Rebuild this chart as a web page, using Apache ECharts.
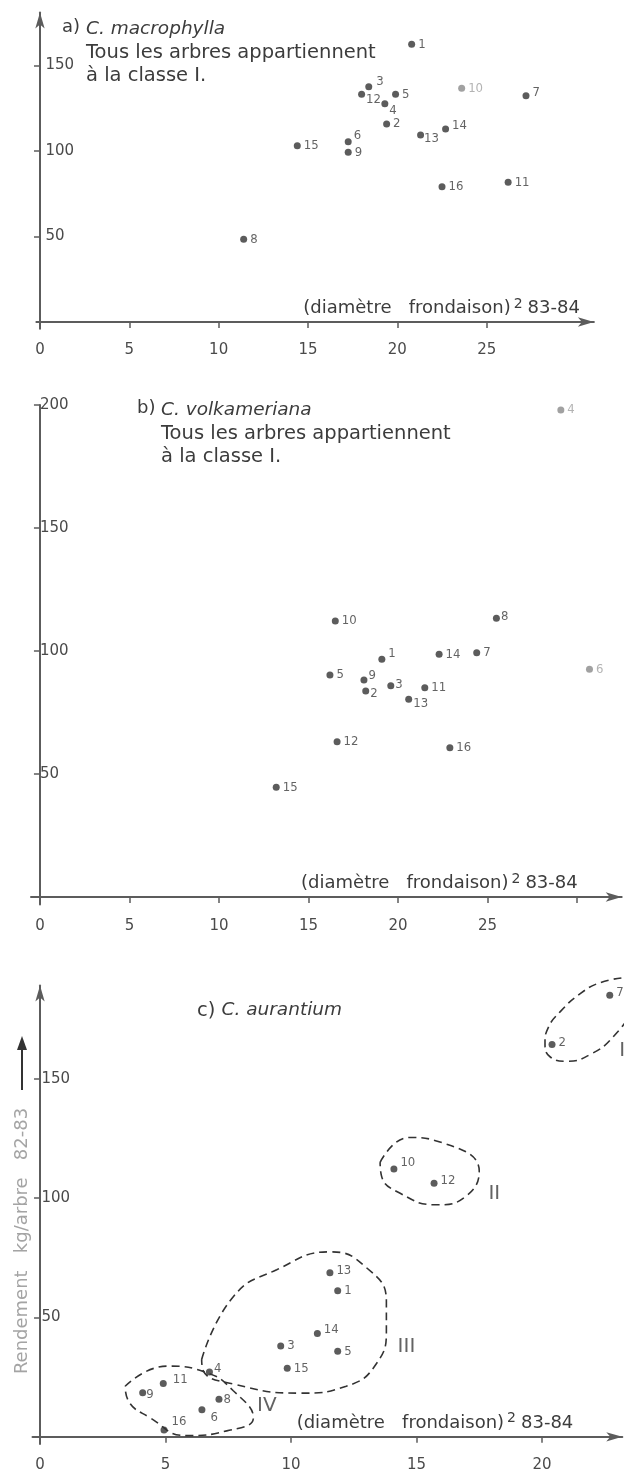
<!DOCTYPE html>
<html>
<head>
<meta charset="utf-8">
<script src="https://cdn.jsdelivr.net/npm/echarts@6/dist/echarts.min.js"></script>
<style>
  html, body { margin: 0; padding: 0; background: #fff; }
  #chart { width: 639px; height: 1473px; }
</style>
</head>
<body>
<div id="chart"></div>
<script>
// [diamètre frondaison², rendement, n° arbre]
const aPoints = [
  [20.8, 162.4, '1'], [19.4, 115.8, '2'], [18.4, 137.6, '3'], [19.3, 127.7, '4'],
  [19.9, 133.2, '5'], [17.25, 105.4, '6'], [27.2, 132.3, '7'], [11.4, 48.4, '8'],
  [17.25, 99.2, '9'], [23.6, 136.7, '10'], [26.2, 81.7, '11'], [18.0, 133.2, '12'],
  [21.3, 109.4, '13'], [22.7, 112.9, '14'], [14.4, 103.1, '15'], [22.5, 79.1, '16']
];
const bPoints = [
  [19.1, 96.7, '1'], [18.2, 83.7, '2'], [19.6, 85.9, '3'], [29.1, 198, '4'],
  [16.2, 90.2, '5'], [30.7, 92.6, '6'], [24.4, 99.3, '7'], [25.5, 113.3, '8'],
  [18.1, 88.2, '9'], [16.5, 112.2, '10'], [21.5, 85.1, '11'], [16.6, 63.1, '12'],
  [20.6, 80.4, '13'], [22.3, 98.7, '14'], [13.2, 44.6, '15'], [22.9, 60.7, '16']
];
const cPoints = [
  [11.86, 61.2, '1'], [20.4, 164.3, '2'], [9.59, 38, '3'], [6.75, 27.2, '4'],
  [11.86, 35.8, '5'], [6.45, 11.3, '6'], [22.7, 185, '7'], [7.13, 15.7, '8'],
  [4.09, 18.5, '9'], [14.1, 112.2, '10'], [4.91, 22.3, '11'], [15.7, 106.2, '12'],
  [11.55, 68.7, '13'], [11.05, 43.3, '14'], [9.85, 28.7, '15'], [4.94, 2.9, '16']
];

// classes drawn round the C. aurantium trees (hand-drawn outlines)
const classI = [[23.37, 192.4], [23.84, 188.3], [23.64, 179.9], [22.84, 167.6], [21.91, 160.1], [20.98, 157.3],
  [20.32, 159.2], [20.12, 164.9], [20.25, 171.4], [20.72, 178], [21.51, 185.5], [22.31, 190.2], [23.37, 192.4]];
const classII = [[13.55, 115], [14.7, 125.4], [15.9, 123.6], [17.5, 111.3], [17.0, 101], [15.8, 97.2], [14.35, 102], [13.6, 109.5], [13.55, 115]];
const classIII = [[6.44, 32.4], [7.7, 58.7], [9.43, 70], [11.55, 77.5], [13.0, 70.9], [13.8, 56.8], [13.8, 45.6], [13.4, 30.6], [12.2, 21.2], [10.4, 18.3], [7.7, 22.1], [6.5, 27.7], [6.44, 32.4]];
const classIV = [[3.39, 21.2], [5.05, 29.6], [6.64, 26.9], [7.7, 19.3], [8.5, 8.0], [7.44, 2.5], [5.84, 0.5], [4.38, 8.0], [3.5, 15.5], [3.39, 21.2]];
const classNames = [[23.2, 161.6, 'I'], [18.1, 102, 'II'], [14.6, 37.6, 'III'], [9.04, 13.2, 'IV']];

const xTicksAB = [0, 5, 10, 15, 20, 25];
const xTicksB = [0, 5, 10, 15, 20, 25, 30];
const xTicksC = [0, 5, 10, 15, 20];
const yTicksA = [50, 100, 150];
const yTicksB = [50, 100, 150, 200];
const yTicksC = [50, 100, 150];

const fadedA = ['10'];
const fadedB = ['4', '6'];
const offA = { '3': [1, -5], '12': [-2, 5], '4': [-2, 7], '13': [-3, 4], '6': [-1, -6], '7': [0, -3], '14': [0, -3] };
const offB = { '1': [0, -6], '9': [-2, -4], '2': [-2, 3], '13': [-2, 4], '3': [-2, -1], '8': [-2, -2] };
const offC = { '10': [0, -6], '12': [0, -3], '13': [0, -2], '14': [0, -4], '6': [2, 8], '16': [1, -8],
  '11': [3, -4], '4': [-2, -3], '2': [0, -2], '7': [0, -3], '9': [-3, 2], '8': [-2, 0] };

const AX = '#5c5c5c';
const TXT = '#3c3c3c';
const SANS = "'DejaVu Sans', sans-serif";
const COND = "'DejaVu Sans Condensed', 'DejaVu Sans', sans-serif";

const chart = echarts.init(document.getElementById('chart'), null, { renderer: 'canvas' });

function xAxis(gi, min, max, ticks, labels, gap) {
  return {
    type: 'value', gridIndex: gi, min: min, max: max,
    splitLine: { show: false },
    axisLine: { onZero: true, lineStyle: { color: AX, width: 2 }, symbol: ['none', 'arrow'], symbolSize: [7, 16] },
    axisTick: { customValues: ticks, length: 6, lineStyle: { color: AX, width: 1.5 } },
    axisLabel: { customValues: labels, margin: 14, color: '#4a4a4a', fontSize: 15, fontFamily: SANS },
    name: '{t|(diamètre   frondaison)}{s|2}{t|83-84}',
    nameLocation: 'end', nameGap: gap,
    nameTextStyle: {
      align: 'right', verticalAlign: 'bottom', padding: [0, 0, 3, 0], color: TXT,
      rich: {
        t: { fontSize: 18, fontFamily: SANS, color: TXT, lineHeight: 22 },
        s: { fontSize: 14, fontFamily: SANS, color: TXT, verticalAlign: 'top', lineHeight: 22, padding: [0, 5, 7, 3] }
      }
    }
  };
}

function yAxis(gi, min, max, ticks, arrow) {
  return {
    type: 'value', gridIndex: gi, min: min, max: max,
    splitLine: { show: false },
    axisLine: { onZero: true, lineStyle: { color: AX, width: 2 }, symbol: arrow ? ['none', 'arrow'] : 'none', symbolSize: [7, 16] },
    axisTick: { customValues: ticks, length: 6, lineStyle: { color: AX, width: 1.5 } },
    axisLabel: { customValues: ticks, inside: true, margin: 9, color: '#4a4a4a', fontSize: 15, fontFamily: SANS }
  };
}

function pointSeries(gi, pts, off, faded) {
  return {
    type: 'scatter', xAxisIndex: gi, yAxisIndex: gi, clip: false,
    symbolSize: 7,
    itemStyle: { color: '#333' },
    label: {
      show: true, position: 'right', distance: 3,
      formatter: (p) => p.value[2],
      color: TXT, fontSize: 13, fontFamily: COND
    },
    data: pts.map((p) => {
      const item = { value: p, label: { offset: off[p[2]] || [0, 0] } };
      if (faded && faded.indexOf(p[2]) >= 0) {
        item.itemStyle = { color: '#8a8a8a' };
        item.label.color = '#a0a0a0';
      }
      return item;
    })
  };
}

function outline(pts) {
  return {
    type: 'line', xAxisIndex: 2, yAxisIndex: 2, smooth: 0.5, symbol: 'none', silent: true, clip: false,
    lineStyle: { color: '#333', width: 1.6, type: [8, 5] },
    data: pts
  };
}

const titleStyle = {
  fontSize: 19.5, lineHeight: 23, fontWeight: 'normal', color: TXT, fontFamily: SANS,
  rich: { i: { fontStyle: 'italic', fontSize: 18.5, lineHeight: 23, color: TXT, fontFamily: SANS } }
};

const option = {
  animation: false,
  backgroundColor: '#fff',
  title: [
    { text: 'a)', left: 62, top: 18, padding: 0, textStyle: { fontSize: 18, fontWeight: 'normal', color: TXT, fontFamily: SANS } },
    { text: '{i|C. macrophylla}\nTous les arbres appartiennent\nà la classe I.', left: 86, top: 18, padding: 0, textStyle: titleStyle },
    { text: 'b)', left: 137, top: 399, padding: 0, textStyle: { fontSize: 18, fontWeight: 'normal', color: TXT, fontFamily: SANS } },
    { text: '{i|C. volkameriana}\nTous les arbres appartiennent\nà la classe I.', left: 161, top: 399, padding: 0, textStyle: titleStyle },
    { text: 'c) {i|C. aurantium}', left: 197, top: 999, padding: 0, textStyle: titleStyle }
  ],
  grid: [
    { left: 36.4, top: 12.5, width: 557.5, height: 316.3 },
    { left: 31, top: 405, width: 590.7, height: 499.4 },
    { left: 32.5, top: 985.6, width: 589.8, height: 464.6 }
  ],
  xAxis: [
    xAxis(0, -0.2, 31, xTicksAB, xTicksAB, -14),
    xAxis(1, -0.5, 32.5, xTicksB, xTicksAB, -44),
    xAxis(2, -0.3, 23.2, xTicksC, xTicksC, -49)
  ],
  yAxis: [
    yAxis(0, -4, 181, yTicksA, true),
    yAxis(1, -3, 200, yTicksB, false),
    yAxis(2, -3, 189, yTicksC, true)
  ],
  graphic: [
    { type: 'text', x: 22, y: 1241, rotation: Math.PI / 2,
      style: { text: 'Rendement   kg/arbre   82-83', fill: '#a4a4a4', fontSize: 18, fontFamily: SANS, align: 'center', verticalAlign: 'middle' } },
    { type: 'line', shape: { x1: 22, y1: 1090, x2: 22, y2: 1048 }, style: { stroke: '#333', lineWidth: 2 } },
    { type: 'polygon', shape: { points: [[17, 1050], [27, 1050], [22, 1036]] }, style: { fill: '#333' } }
  ],
  series: [
    pointSeries(0, aPoints, offA, fadedA),
    pointSeries(1, bPoints, offB, fadedB),
    pointSeries(2, cPoints, offC, null),
    outline(classI), outline(classII), outline(classIII), outline(classIV),
    {
      type: 'scatter', xAxisIndex: 2, yAxisIndex: 2, clip: false, symbolSize: 0, silent: true,
      label: { show: true, position: 'inside', formatter: (p) => p.value[2], color: TXT, fontSize: 20, fontFamily: SANS },
      data: classNames
    }
  ]
};

chart.setOption(option);
</script>
</body>
</html>
